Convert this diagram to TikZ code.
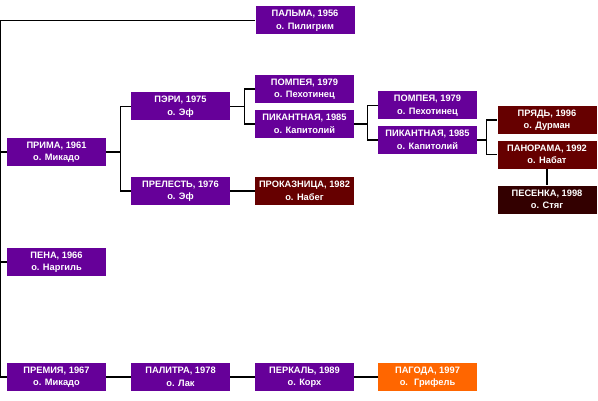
\documentclass[tikz,border=0pt]{standalone}
\usepackage{fontspec}
\usepackage{xcolor}
\usetikzlibrary{positioning}
\newfontfamily\cardfont{Liberation Sans}
\definecolor{sortViolet}{HTML}{660099}
\definecolor{sortRed}{HTML}{660000}
\definecolor{sortDark}{HTML}{330000}
\definecolor{sortOrange}{HTML}{FF6600}
\newcommand{\cardtext}{\cardfont\bfseries\fontsize{9.3}{12.5}\selectfont}

\tikzset{
  card/.style={minimum width=99pt, minimum height=28pt, inner sep=0pt,
    align=center, text=white, font=\cardtext},
  link/.style={draw=black, line width=1.2pt}
}

\begin{document}
\begin{tikzpicture}[x=1pt, y=1pt, node distance=124pt]
                        \useasboundingbox (0,0) rectangle (598,400);
                        \node[card, fill=sortViolet] (prima) at (56.5,248) {ПРИМА, 1961\\о. Микадо};
                        \node[card, fill=sortViolet] (palma) at (305,379.5) {ПАЛЬМА, 1956\\о. Пилигрим};
                        \node[card, fill=sortViolet] (peri) [right of = prima, yshift=45.5] {ПЭРИ, 1975\\о. Эф};
                        \node[card, fill=sortViolet] (prelest) [right of = prima, yshift=-39] {ПРЕЛЕСТЬ, 1976\\о. Эф};
                        \node[card, fill=sortViolet] (pompeya) [right of = peri, yshift=17.5] {ПОМПЕЯ, 1979\\о. Пехотинец};
                        \node[card, fill=sortViolet] (pikant) [right of = peri, yshift=-17.5] {ПИКАНТНАЯ, 1985\\о. Капитолий};
                        \node[card, fill=sortRed] (prokaz) [right of = prelest] {ПРОКАЗНИЦА, 1982\\о. Набег};
                        \node[card, fill=sortViolet] (pompeyaB) [right of = pikant, xshift=-1, yshift=18.5] {ПОМПЕЯ, 1979\\о. Пехотинец};
                        \node[card, fill=sortViolet] (pikantB) [right of = pikant, xshift=-1, yshift=-16] {ПИКАНТНАЯ, 1985\\о. Капитолий};
                        \node[card, fill=sortRed] (pryad) [right of = pikantB, xshift=-4.5, yshift=20] {ПРЯДЬ, 1996\\о. Дурман};
                        \node[card, fill=sortRed] (panorama) [right of = pikantB, xshift=-4.5, yshift=-14.5] {ПАНОРАМА, 1992\\о. Набат};
                        \node[card, fill=sortDark] (pesenka) [below of = panorama, node distance=45pt] {ПЕСЕНКА, 1998\\о. Стяг};
                        \node[card, fill=sortViolet] (pena) at (56.5,138) {ПЕНА, 1966\\о. Наргиль};
                        \node[card, fill=sortViolet] (premiya) at (56.5,23) {ПРЕМИЯ, 1967\\о. Микадо};
                        \node[card, fill=sortViolet] (palitra) [right of = premiya] {ПАЛИТРА, 1978\\о. Лак};
                        \node[card, fill=sortViolet] (perkal) [right of = palitra] {ПЕРКАЛЬ, 1989\\о. Корх};
                        \node[card, fill=sortOrange] (pagoda) [right of = perkal, xshift=-1] {ПАГОДА, 1997\\о.~ Грифель};

                        % main line on the left
                        \draw[link] (palma.west) -| ([xshift=-6]premiya.west) -- (premiya.west);
                        \draw[link] (prima.west) -- +(-6,0);
                        \draw[link] (pena.west) -- +(-6,0);

                        % forks
                        \draw[link] (prima.east) -- +(14,0) |- (peri.west);
                        \draw[link] (prima.east) -- +(14,0) |- (prelest.west);
                        \draw[link] (peri.east) -- +(14,0) |- (pompeya.west);
                        \draw[link] (peri.east) -- +(14,0) |- (pikant.west);
                        \draw[link] (pikant.east) -- +(13,0) |- (pompeyaB.west);
                        \draw[link] (pikant.east) -- +(13,0) |- (pikantB.west);
                        \draw[link] (pikantB.east) -- +(9,0) |- (pryad.west);
                        \draw[link] (pikantB.east) -- +(9,0) |- (panorama.west);

                        % straight links
                        \path[link]
                            (prelest) edge (prokaz)
                            (panorama) edge (pesenka)
                            (premiya) edge (palitra)
                            (palitra) edge (perkal)
                            (perkal) edge (pagoda)
                        ;
                    \end{tikzpicture}
\end{document}
